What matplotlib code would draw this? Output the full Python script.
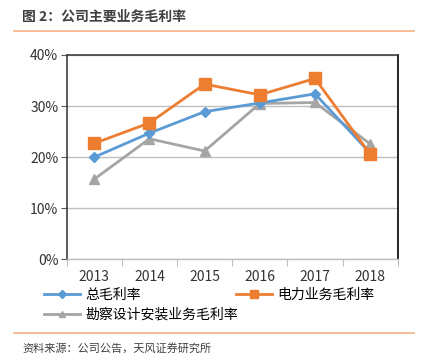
import matplotlib
matplotlib.use("Agg")
import matplotlib.pyplot as plt
from matplotlib.lines import Line2D

plt.rcParams['font.family'] = ['Noto Sans CJK SC', 'DejaVu Sans']

years = ['2013', '2014', '2015', '2016', '2017', '2018']
total = [20.0, 24.7, 28.9, 30.6, 32.4, 20.8]
power = [22.7, 26.7, 34.3, 32.2, 35.4, 20.6]
survey = [15.7, 23.6, 21.2, 30.5, 30.7, 22.6]
series_names = ['总毛利率', '电力业务毛利率', '勘察设计安装业务毛利率']
yticks = [0, 10, 20, 30, 40]
ytick_labels = ['0%', '10%', '20%', '30%', '40%']

blue = '#5B9BD5'
orange = '#ED7D31'
gray = '#A5A5A5'

fig = plt.figure(figsize=(4.22, 3.6), dpi=100)
W, H = 422, 360
ax = fig.add_axes([66.7 / W, 1 - 259.3 / H, (397.7 - 66.7) / W, (259.3 - 55) / H])

x = list(range(len(years)))
ax.plot(x, total, color=blue, lw=2, marker='D', ms=5, zorder=3)
ax.plot(x, power, color=orange, lw=2, marker='s', ms=8, zorder=4)
ax.plot(x, survey, color=gray, lw=2, marker='^', ms=7, zorder=2)

ax.set_xlim(-0.5, 5.5)
ax.set_ylim(0, 40)
ax.set_yticks(yticks)
ax.set_yticklabels(ytick_labels, fontsize=10, color='#333333')
ax.yaxis.grid(True, color='#BFBFBF', lw=1)
ax.set_axisbelow(True)

ax.set_xticks([i - 0.5 for i in range(len(years) + 1)])
ax.set_xticklabels([])
ax.set_xticks(x, minor=True)
ax.set_xticklabels(years, minor=True, fontsize=10, color='#333333')
ax.tick_params(axis='x', which='major', length=5, color='#BFBFBF', direction='out')
ax.tick_params(axis='x', which='minor', length=0, pad=8)
ax.tick_params(axis='y', length=4, color='#595959', pad=2)

for s in ['left', 'top']:
    ax.spines[s].set_color('#404040')
    ax.spines[s].set_linewidth(1.2)
ax.spines['right'].set_color('#000000')
ax.spines['right'].set_linewidth(1.2)
ax.spines['bottom'].set_color('#BFBFBF')
ax.spines['bottom'].set_linewidth(1)

handles = [
    Line2D([], [], color=blue, lw=2, marker='D', ms=4),
    Line2D([], [], color=orange, lw=2, marker='s', ms=6),
    Line2D([], [], color=gray, lw=2, marker='^', ms=5),
]
fig.legend(handles[:2], series_names[:2], loc='upper left', ncol=2,
           bbox_to_anchor=(44 / W, 1 - 288 / H), frameon=False, fontsize=10,
           handlelength=2.6, columnspacing=6.8, handletextpad=0.4, borderpad=0,
           borderaxespad=0)
fig.legend(handles[2:], series_names[2:], loc='upper left',
           bbox_to_anchor=(44 / W, 1 - 308 / H), frameon=False, fontsize=10,
           handlelength=2.6, handletextpad=0.4, borderpad=0, borderaxespad=0)

fig.text(22 / W, 1 - 17 / H, '图 2：公司主要业务毛利率', fontsize=10, fontweight='bold',
         color='#404040', va='center', ha='left')
fig.add_artist(Line2D([14 / W, 414 / W], [1 - 31 / H, 1 - 31 / H], color='#F4B183', lw=1.2))
fig.add_artist(Line2D([14 / W, 414 / W], [1 - 333 / H, 1 - 333 / H], color='#F4B183', lw=1.2))
fig.text(22 / W, 1 - 348 / H, '资料来源：公司公告，天风证券研究所', fontsize=8,
         color='#404040', va='center', ha='left')

fig.savefig('out.png', dpi=100)
